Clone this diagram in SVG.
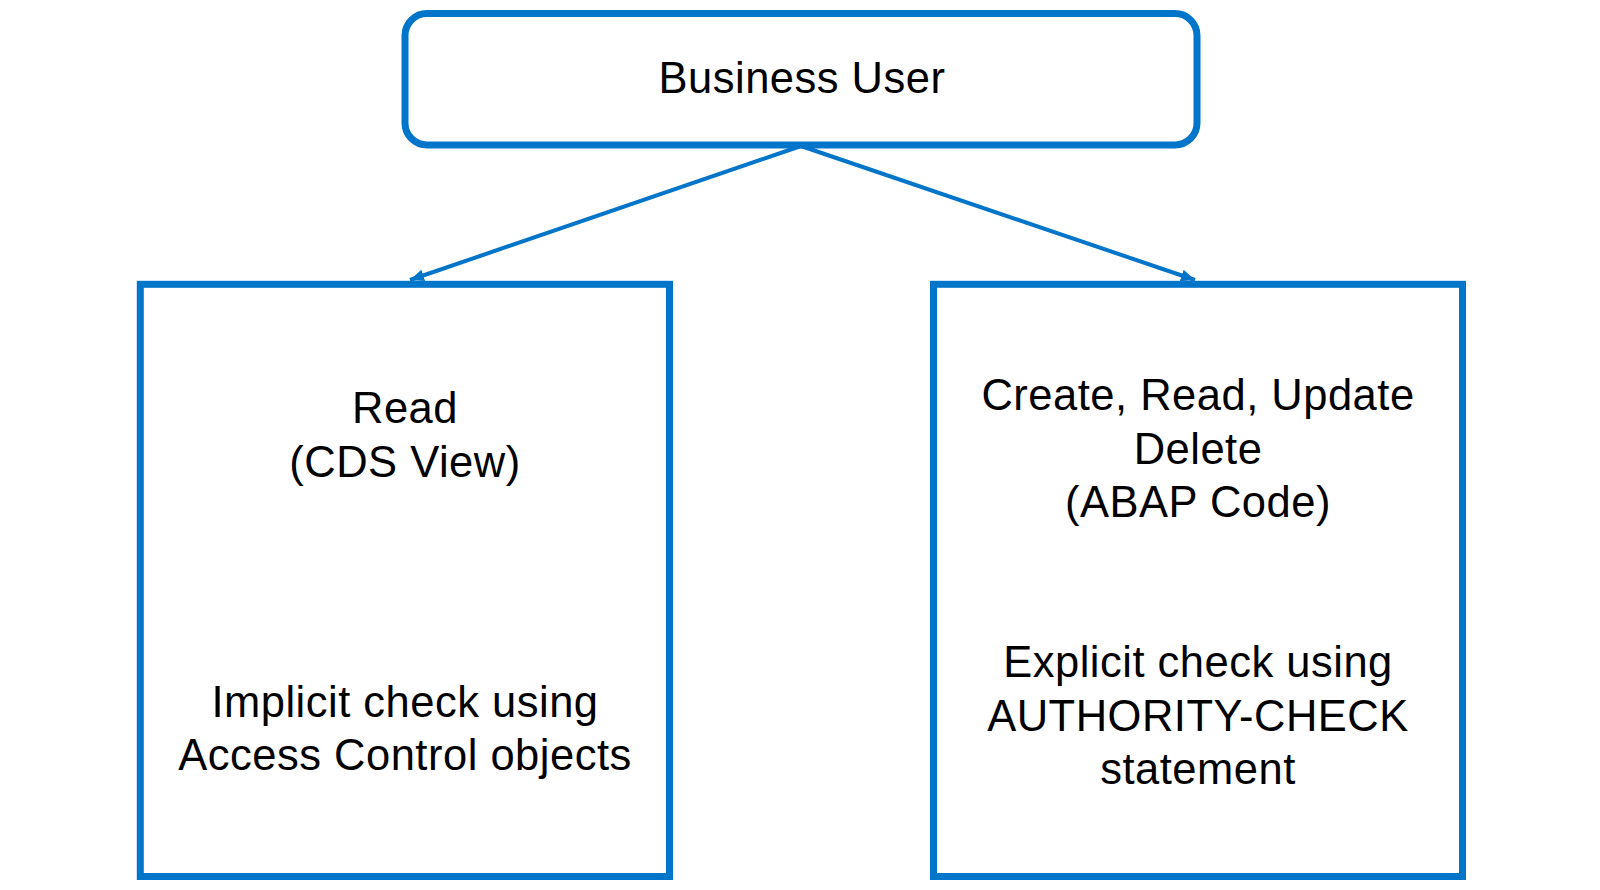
<svg xmlns="http://www.w3.org/2000/svg" width="1600" height="890" viewBox="0 0 1600 890">
<style>
.box{fill:#ffffff;stroke:#0075C9;stroke-width:7}
.conn{fill:none;stroke:#0075C9;stroke-width:4}
.t{font-family:"Liberation Sans",Arial,sans-serif;font-size:43.5px;fill:#000000;text-anchor:middle;letter-spacing:0.5px}
</style>
<defs>
<marker id="arrow" markerUnits="userSpaceOnUse" markerWidth="16" markerHeight="14" refX="14" refY="6" orient="auto">
<path d="M0,0 L14,6 L0,12 Z" fill="#0075C9"/>
</marker>
</defs>
<rect width="1600" height="890" fill="#ffffff"/>
<g id="connectors">
<line class="conn" x1="801" y1="146" x2="410" y2="280" marker-end="url(#arrow)"/>
<line class="conn" x1="801" y1="146" x2="1195" y2="280" marker-end="url(#arrow)"/>
</g>
<g id="business-user">
<rect class="box" x="405" y="13.5" width="792" height="131.5" rx="22" ry="22"/>
<text class="t" x="802" y="93">Business User</text>
</g>
<g id="read-cds">
<rect class="box" x="140.3" y="284.3" width="529.2" height="592.2"/>
<text class="t" x="405" y="423">Read</text>
<text class="t" x="405" y="477">(CDS View)</text>
<text class="t" x="405" y="717">Implicit check using</text>
<text class="t" x="405" y="770">Access Control objects</text>
</g>
<g id="crud-abap">
<rect class="box" x="933.5" y="284.3" width="529" height="592.2"/>
<text class="t" x="1198" y="410">Create, Read, Update</text>
<text class="t" x="1198" y="464">Delete</text>
<text class="t" x="1198" y="517">(ABAP Code)</text>
<text class="t" x="1198" y="677">Explicit check using</text>
<text class="t" x="1198" y="731">AUTHORITY-CHECK</text>
<text class="t" x="1198" y="784">statement</text>
</g>
</svg>
